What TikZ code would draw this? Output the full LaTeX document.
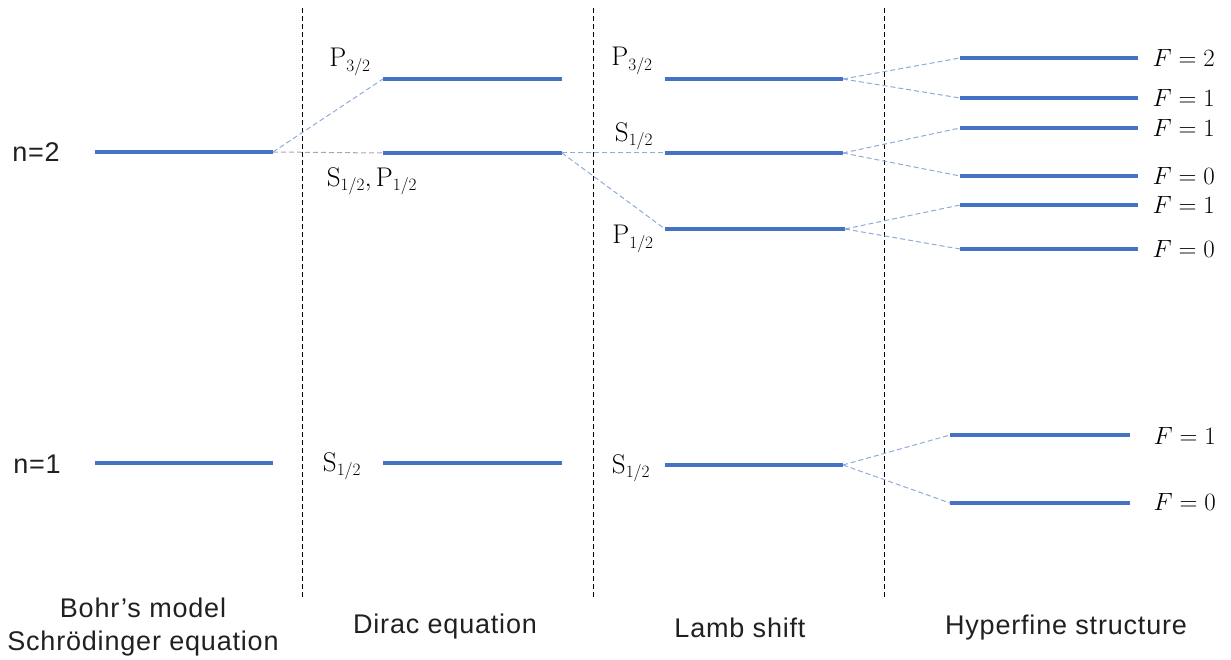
\documentclass[tikz,border=0pt]{standalone}
\usepackage{fontspec}
\newfontfamily\capfont[LetterSpace=3]{Liberation Sans}
\definecolor{lvl}{HTML}{4472C4}
\definecolor{conn}{HTML}{8FAADC}
\definecolor{connG}{HTML}{A6A6B0}
\definecolor{txt}{HTML}{202020}
\begin{document}
\begin{tikzpicture}[x=1pt,y=-1pt,
  level/.style={draw=lvl,line width=4pt},
  link/.style={draw=conn,line width=1pt,dash pattern=on 5pt off 3pt},
  linkgray/.style={draw=connG,line width=1pt,dash pattern=on 5pt off 3pt},
  sep/.style={draw=black,line width=1pt,dash pattern=on 5pt off 3pt},
  sty/.style={font=\capfont\fontsize{27}{33}\selectfont,align=center,text=txt},
  ml/.style={font=\fontsize{27}{30}\selectfont},
  fl/.style={font=\fontsize{28}{30}\selectfont,anchor=west}]
\useasboundingbox (0,0) rectangle (1231,660);
% separators
\coordinate (s1t) at (302,8); \coordinate (s1b) at (302,598);
\coordinate (s2t) at (593,8); \coordinate (s2b) at (593,598);
\coordinate (s3t) at (884,8); \coordinate (s3b) at (884,598);
\draw[sep] (s1t) -- (s1b);
\draw[sep] (s2t) -- (s2b);
\draw[sep] (s3t) -- (s3b);
% Bohr
\coordinate (b2l) at (95,152); \coordinate (b2r) at (273,152);
\coordinate (b1l) at (95,463); \coordinate (b1r) at (273,463);
\draw[level] (b2l) -- (b2r);
\draw[level] (b1l) -- (b1r);
\node[sty] (n2) at (36,152) {n=2};
\node[sty] (n1) at (37,464) {n=1};
% Dirac
\coordinate (dpl) at (383,79); \coordinate (dpr) at (562,79);
\coordinate (dsl) at (383,153); \coordinate (dsr) at (562,153);
\coordinate (d1l) at (383,463); \coordinate (d1r) at (562,463);
\draw[level] (dpl) -- (dpr);
\draw[level] (dsl) -- (dsr);
\draw[level] (d1l) -- (d1r);
\node[ml] (dpP) at (350,62) {$\mathrm{P}_{3/2}$};
\node[ml] (dsP) at (372,181) {$\mathrm{S}_{1/2}, \mathrm{P}_{1/2}$};
\node[ml] (d1S) at (342,466) {$\mathrm{S}_{1/2}$};
% Lamb
\coordinate (lpl) at (665,79); \coordinate (lpr) at (843,79);
\coordinate (lsl) at (665,153); \coordinate (lsr) at (843,153);
\coordinate (lql) at (665,229); \coordinate (lqr) at (845,229);
\coordinate (l1l) at (665,465); \coordinate (l1r) at (843,465);
\draw[level] (lpl) -- (lpr);
\draw[level] (lsl) -- (lsr);
\draw[level] (lql) -- (lqr);
\draw[level] (l1l) -- (l1r);
\node[ml] (lpP) at (632,61) {$\mathrm{P}_{3/2}$};
\node[ml] (lsS) at (634,136) {$\mathrm{S}_{1/2}$};
\node[ml] (lqP) at (633,239) {$\mathrm{P}_{1/2}$};
\node[ml] (l1S) at (631,468) {$\mathrm{S}_{1/2}$};
% Hyperfine
\foreach \n/\y/\t in {h1/58/2,h2/98/1,h3/128/1,h4/176/0,h5/205/1,h6/249/0}{
  \coordinate (\n l) at (960,\y); \coordinate (\n r) at (1138,\y);
  \draw[level] (\n l) -- (\n r);
  \node[fl] (\n t) at (1149,\y) {$F=\t$};
}
\coordinate (h7l) at (950,435); \coordinate (h7r) at (1130,435);
\coordinate (h8l) at (950,503); \coordinate (h8r) at (1130,503);
\draw[level] (h7l) -- (h7r);
\draw[level] (h8l) -- (h8r);
\node[fl] (h7t) at (1150,436) {$F=1$};
\node[fl] (h8t) at (1150,502) {$F=0$};
% connectors
\draw[link] (b2r) -- (dpl);
\draw[linkgray] (b2r) -- (dsl);
\draw[link] (dsr) -- (lsl);
\draw[link] (dsr) -- (lql);
\draw[link] (lpr) -- (h1l);
\draw[link] (lpr) -- (h2l);
\draw[link] (lsr) -- (h3l);
\draw[link] (lsr) -- (h4l);
\draw[link] (lqr) -- (h5l);
\draw[link] (lqr) -- (h6l);
\draw[link] (l1r) -- (h7l);
\draw[link] (l1r) -- (h8l);
% captions
\node[sty] (c1) at (143,627) {Bohr’s model\\Schrödinger equation};
\node[sty] (c2) at (445,627) {Dirac equation};
\node[sty] (c3) at (740,628) {Lamb shift};
\node[sty] (c4) at (1066,628) {Hyperfine structure};
\end{tikzpicture}
\end{document}
